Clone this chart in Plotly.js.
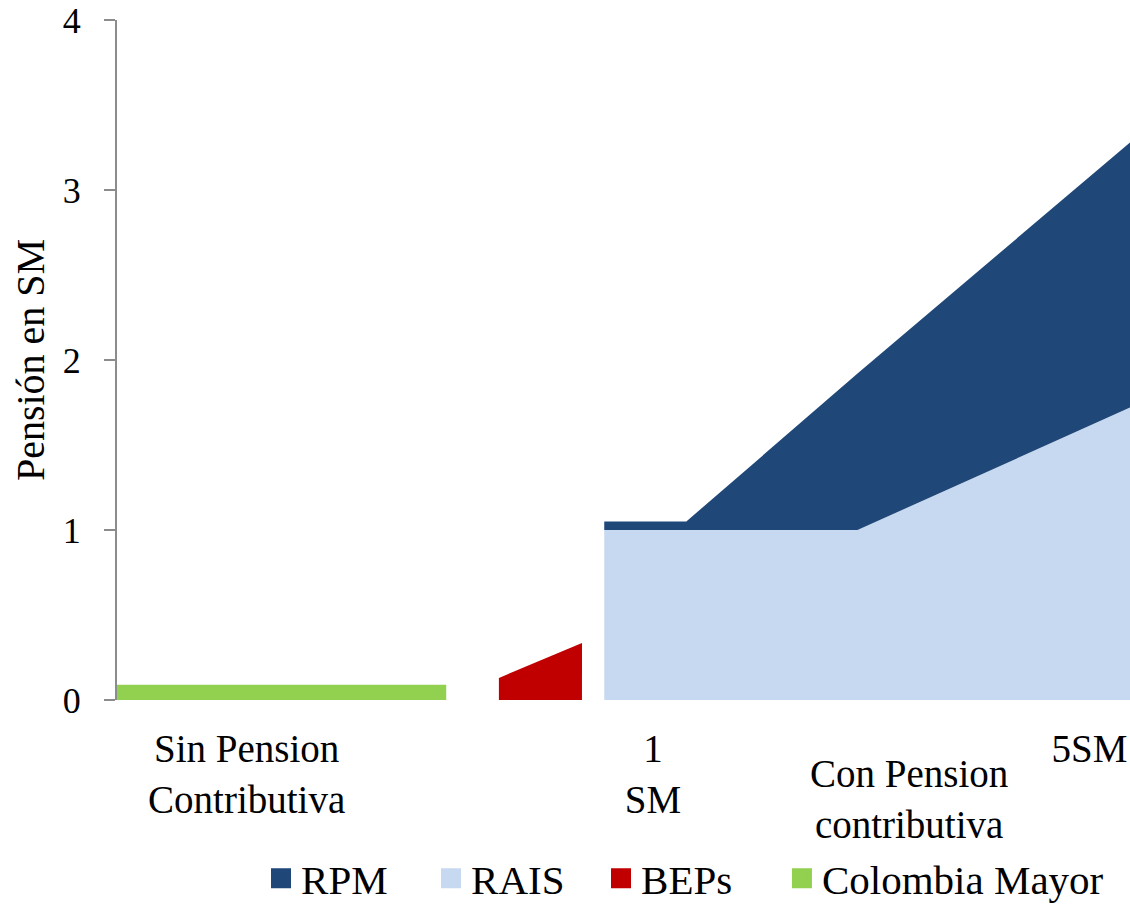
<!DOCTYPE html>
<html>
<head>
<meta charset="utf-8">
<script src="https://cdn.plot.ly/plotly-3.0.1.min.js"></script>
<style>
  html, body { margin: 0; padding: 0; background: #ffffff; }
  #chart { width: 1130px; height: 904px; }
</style>
</head>
<body>
<div id="chart"></div>
<script>
// ---- data (x: position along the income scale, y: pension in SM) ----
const seriesNames = ["RPM", "RAIS", "BEPs", "Colombia Mayor"];
const seriesColors = ["#1F4778", "#C6D9F0", "#C00000", "#92D050"];

const colombiaMayorX = [0, 3.25];
const colombiaMayorY = [0.09, 0.09];

const bepsX = [3.77, 4.59];
const bepsY = [0.13, 0.335];

const contribX = [4.81, 5.62, 7.31, 10];
const raisY = [1.0, 1.0, 1.0, 1.72];
const rpmY = [0.05, 0.05, 0.92, 1.56];

const xTickVals = [1.28, 5.29, 9.6];
const xTickText = ["Sin Pension<br>Contributiva", "1<br>SM", "5SM"];
const groupLabel = "Con Pension<br>contributiva";
const groupLabelX = 7.82;

const yTickVals = [0, 1, 2, 3, 4];
const yTitle = "Pensión en SM";

// ---- traces ----
const font = "'Liberation Serif'";
const traces = [
  {
    x: contribX, y: raisY, type: "scatter", mode: "none",
    stackgroup: "contrib", fillcolor: seriesColors[1],
    showlegend: false, hoverinfo: "skip", name: seriesNames[1]
  },
  {
    x: contribX, y: rpmY, type: "scatter", mode: "none",
    stackgroup: "contrib", fillcolor: seriesColors[0],
    showlegend: false, hoverinfo: "skip", name: seriesNames[0]
  },
  {
    x: bepsX, y: bepsY, type: "scatter", mode: "none",
    fill: "tozeroy", fillcolor: seriesColors[2],
    showlegend: false, hoverinfo: "skip", name: seriesNames[2]
  },
  {
    x: colombiaMayorX, y: colombiaMayorY, type: "scatter", mode: "none",
    fill: "tozeroy", fillcolor: seriesColors[3],
    showlegend: false, hoverinfo: "skip", name: seriesNames[3]
  }
];
// legend entries (square swatches)
seriesNames.forEach((n, i) => {
  traces.push({
    x: [null], y: [null], type: "scatter", mode: "markers", name: n,
    legend: i === 3 ? "legend2" : "legend",
    marker: { symbol: "square", size: 16, color: seriesColors[i],
              line: { color: seriesColors[i], width: 4 } },
    showlegend: true, hoverinfo: "skip"
  });
});

const legendFont = { family: font, size: 41, color: "#000000" };
const layout = {
  width: 1130, height: 904,
  margin: { l: 117, r: 0, t: 20, b: 204 },
  paper_bgcolor: "#ffffff", plot_bgcolor: "#ffffff",
  font: { family: font, color: "#000000", size: 38 },
  showlegend: true,
  legend: {
    orientation: "h", xref: "container", yref: "container",
    x: 0.231, xanchor: "left", y: 0.028, yanchor: "middle",
    font: legendFont, itemsizing: "trace", entrywidth: 125,
    bgcolor: "rgba(0,0,0,0)", traceorder: "normal"
  },
  legend2: {
    orientation: "h", xref: "container", yref: "container",
    x: 0.692, xanchor: "left", y: 0.028, yanchor: "middle",
    font: legendFont, itemsizing: "trace",
    bgcolor: "rgba(0,0,0,0)"
  },
  xaxis: {
    range: [0, 10], showgrid: false, zeroline: false, showline: false,
    ticks: "", tickmode: "array", tickvals: xTickVals, ticktext: xTickText,
    tickfont: { family: font, size: 39, color: "#000000" },
    ticklabelstandoff: 22, fixedrange: true
  },
  yaxis: {
    range: [0, 4], showgrid: false, zeroline: false,
    showline: true, linecolor: "#8c8c8c", linewidth: 2,
    ticks: "outside", ticklen: 11, tickcolor: "#8c8c8c", tickwidth: 2,
    tickmode: "array", tickvals: yTickVals,
    tickfont: { family: font, size: 36, color: "#000000" },
    ticklabelstandoff: 16,
    title: { text: yTitle, font: { family: font, size: 40, color: "#000000" }, standoff: 6 },
    fixedrange: true
  },
  annotations: [
    {
      x: groupLabelX, xref: "x", y: -0.073, yref: "paper", yanchor: "top",
      text: groupLabel, showarrow: false,
      font: { family: font, size: 39, color: "#000000" }
    }
  ]
};

Plotly.newPlot("chart", traces, layout, { staticPlot: true, displayModeBar: false });
</script>
</body>
</html>
